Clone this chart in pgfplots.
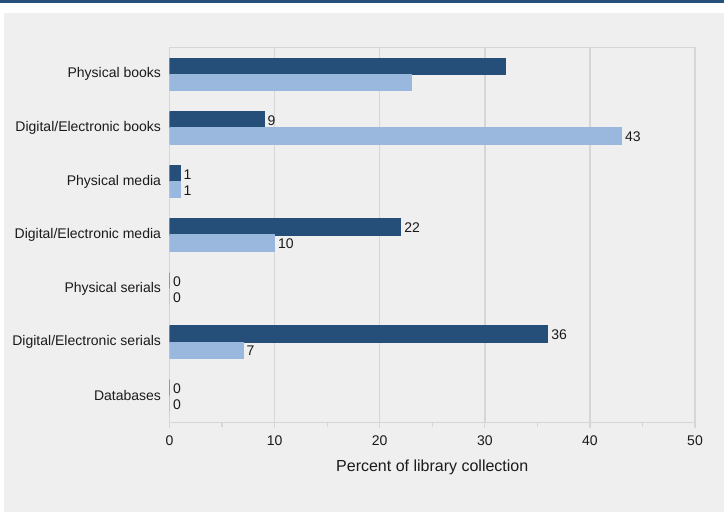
\documentclass[border=0pt]{standalone}
\usepackage{fontspec}
\setmainfont{Liberation Sans}
\usepackage{pgfplots}
\pgfplotsset{compat=1.18}

\definecolor{darkbar}{HTML}{254E79}
\definecolor{lightbar}{HTML}{9AB8DE}
\definecolor{panel}{HTML}{EFEFEF}
\definecolor{gridgray}{HTML}{D6D6D6}
\definecolor{band}{HTML}{27507D}
\definecolor{txt}{HTML}{1A1A1A}

\begin{document}
\begin{tikzpicture}
\useasboundingbox (0,0) rectangle (724bp,512bp);
\fill[white] (0,0) rectangle (724bp,512bp);
\fill[band] (0,509bp) rectangle (724bp,512bp);
\fill[panel] (4bp,0) rectangle (724bp,499bp);
\begin{axis}[
  at={(169.5bp,89.5bp)}, anchor=south west,
  scale only axis,
  width=525.5bp, height=375bp,
  xbar, bar width=0.3,
  xmin=0, xmax=50,
  ymin=-0.5, ymax=6.5,
  y dir=reverse,
  xtick={0,10,...,50},
  minor xtick={5,15,...,45},
  xtick pos=bottom,
  ytick={0,...,6},
  yticklabels={Physical books,Digital/Electronic books,Physical media,Digital/Electronic media,Physical serials,Digital/Electronic serials,Databases},
  tick align=outside,
  major tick length=5bp, minor tick length=4bp,
  every tick/.style={draw=gridgray, line width=1.2bp},
  ytick style={draw=none},
  xmajorgrids,
  major grid style={draw=gridgray, line width=1.5bp},
  axis line style={draw=gridgray, line width=1.5bp},
  /pgf/number format/assume math mode=true,
  tick label style={font=\fontsize{14bp}{16bp}\selectfont, text=txt},
  xticklabel style={anchor=base, yshift=-17.5bp},
  yticklabel style={anchor=east, xshift=0bp},
  xlabel={Percent of library collection},
  xlabel style={at={(axis description cs:0.5,0)}, anchor=base, yshift=-49bp,
    font=\fontsize{16bp}{18bp}\selectfont, text=txt},
  point meta=explicit symbolic,
  nodes near coords,
  nodes near coords style={anchor=west, inner sep=0pt, xshift=3bp, yshift=-1bp,
    font=\fontsize{14bp}{16bp}\selectfont, text=txt},
]
\addplot[fill=darkbar, draw=darkbar, line width=1.2bp, bar shift=-0.15]
  coordinates {(32,0) [] (9,1) [9] (1,2) [1] (22,3) [22] (0,4) [0] (36,5) [36] (0,6) [0]};
\addplot[fill=lightbar, draw=lightbar, line width=1.2bp, bar shift=0.15]
  coordinates {(23,0) [] (43,1) [43] (1,2) [1] (10,3) [10] (0,4) [0] (7,5) [7] (0,6) [0]};
\end{axis}
\end{tikzpicture}
\end{document}
